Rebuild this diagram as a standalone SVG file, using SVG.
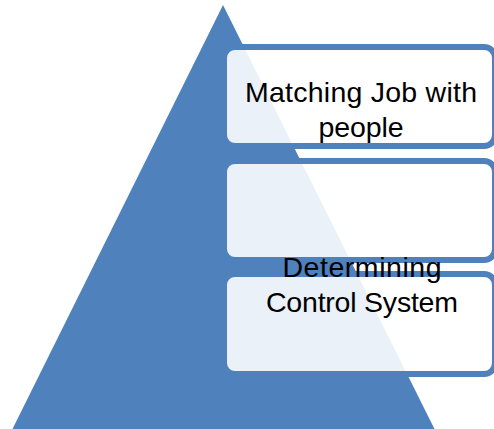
<svg xmlns="http://www.w3.org/2000/svg" width="494" height="429" viewBox="0 0 494 429">
  <style>
    .tri { fill: #4F81BD; }
    .box { fill: #FFFFFF; fill-opacity: 0.89; stroke: #4F81BD; stroke-width: 6; }
    .lbl { font-family: "Liberation Sans", Arial, sans-serif; font-size: 28.5px; fill: #000000; text-anchor: middle; }
  </style>
  <rect width="494" height="429" fill="#FFFFFF"/>
  <g id="pyramid">
    <polygon class="tri" points="223,5 10,434 437,434"/>
  </g>
  <g id="connectors"></g>
  <g id="box1">
    <rect class="box" x="224" y="47" width="271" height="99" rx="11" ry="11"/>
    <text class="lbl" x="361" y="102" textLength="232">Matching Job with</text>
    <text class="lbl" x="361" y="137" textLength="85">people</text>
  </g>
  <g id="box2">
    <rect class="box" x="224" y="161" width="271" height="99" rx="11" ry="11"/>
  </g>
  <g id="box3">
    <rect class="box" x="224" y="274" width="271" height="100" rx="11" ry="11"/>
    <text class="lbl" x="362" y="277" textLength="159">Determining</text>
    <text class="lbl" x="362" y="312" textLength="192">Control System</text>
  </g>
</svg>
